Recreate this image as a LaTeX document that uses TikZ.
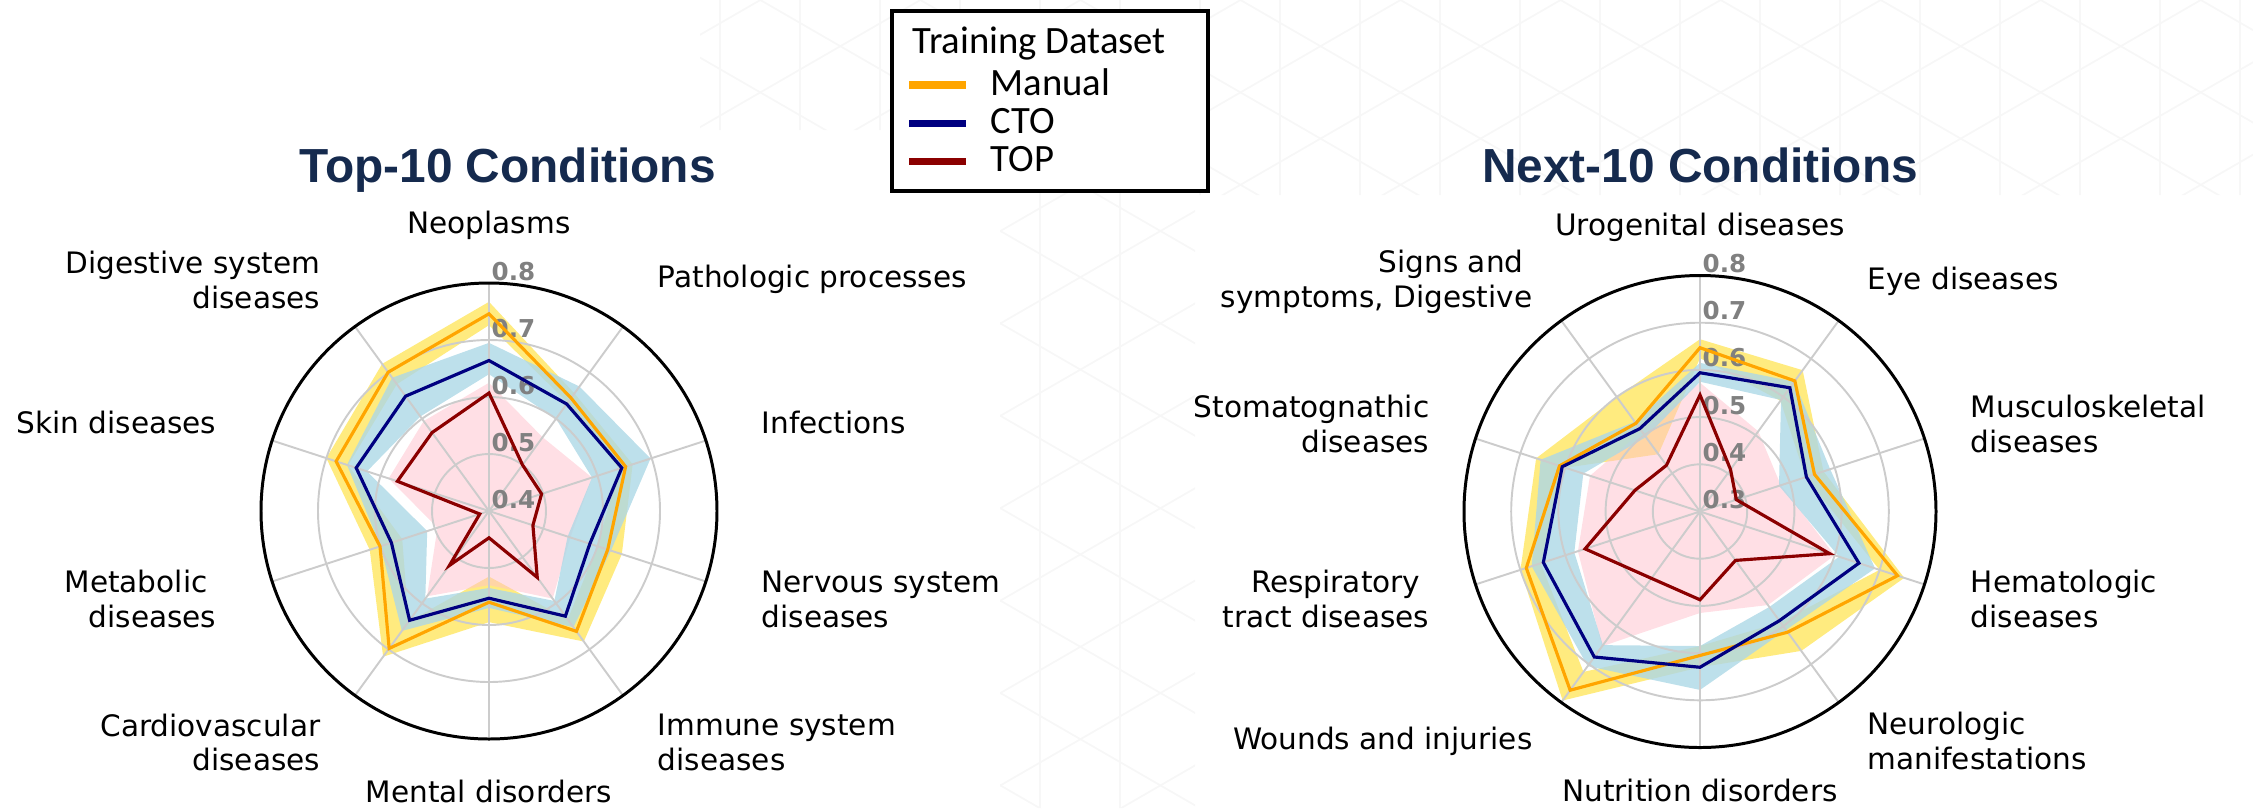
\documentclass[tikz,border=0pt]{standalone}
\usepackage{fontspec}
\setmainfont{DejaVu Sans}
\newfontfamily\headfont{Liberation Sans}
\newfontfamily\keyfont{Carlito}
\usepackage{tikz}
\definecolor{manline}{HTML}{FFA500}
\definecolor{ctoline}{HTML}{000080}
\definecolor{topline}{HTML}{8B0000}
\definecolor{manfill}{HTML}{FFD700}
\definecolor{ctofill}{HTML}{ADD8E6}
\definecolor{topfill}{HTML}{FFC0CB}
\definecolor{headblue}{HTML}{152A4E}
\newcommand\radarpoly[1]{(#10) \foreach \k in {1,...,9}{-- (#1\k)} -- cycle}

\begin{document}
\begin{tikzpicture}[x=0.01cm, y=-0.01cm,
    backdrop/.style={draw=gray!6, line width=0.5pt},
    grid/.style={draw=gray!40, line width=0.55pt},
    rim/.style={draw=black, line width=0.85pt},
    tick/.style={text=gray, font=\fontsize{7}{8}\selectfont\bfseries, inner sep=0pt, anchor=base west},
    cond/.style={font=\fontsize{8.4}{9.9}\selectfont, inner sep=0pt},
    head/.style={text=headblue, font=\fontsize{13.6}{16}\selectfont\headfont\bfseries, inner sep=0pt, anchor=base},
    key/.style={font=\fontsize{11}{12}\selectfont\keyfont, inner sep=0pt, anchor=base west},
    keyline/.style={line width=2pt},
    series/.style={line width=0.9pt},
    manband/.style={fill=manfill, fill opacity=.5, even odd rule},
    ctoband/.style={fill=ctofill, fill opacity=.8, even odd rule},
    topband/.style={fill=topfill, fill opacity=.5},
]
\useasboundingbox (0,0) rectangle (2253,808);

\begin{scope}
  \clip (1000,0) rectangle (1195,808) (1195,0) rectangle (2253,195) (700,0) rectangle (1000,130);
  \foreach \x in {0,80,...,2320} \draw[backdrop] (\x,0) -- (\x,808);
  \foreach \y in {-1663.2,-1570.8,...,924} \draw[backdrop] (-200,\y) -- ++(2600,1501);
  \foreach \y in {-92.4,0,...,2500} \draw[backdrop] (-200,\y) -- ++(2600,-1501);
\end{scope}

\node[head] (titleL) at (507.5,182) {Top-10 Conditions};
\node[head] (titleR) at (1700,182) {Next-10 Conditions};

\node[draw, fill=white, line width=1.1pt, minimum width=3.16cm, minimum height=1.8cm, inner sep=0pt, anchor=north west] (keybox) at (890,9) {};
\node[key] (keyhead) at (912,53.3) {Training Dataset};
\node[key] (keyman) at (990,95) {Manual};
\node[key] (keycto) at (990,133.3) {CTO};
\node[key] (keytop) at (990,171.7) {TOP};
\draw[keyline, manline] (909,85) -- (966,85);
\draw[keyline, ctoline] (909,123.3) -- (966,123.3);
\draw[keyline, topline] (909,161.7) -- (966,161.7);

\begin{scope}[shift={(489,511)}, y=0.01cm]
  \foreach \s/\vals in {
      man/{0.746,0.645,0.652,0.619,0.661,0.560,0.698,0.601,0.682,0.701},
      manhi/{0.767,0.655,0.665,0.645,0.683,0.595,0.716,0.620,0.700,0.719},
      manlo/{0.726,0.635,0.640,0.600,0.635,0.515,0.640,0.560,0.660,0.675},
      cto/{0.664,0.632,0.645,0.586,0.628,0.553,0.637,0.580,0.645,0.649},
      ctohi/{0.695,0.670,0.698,0.625,0.652,0.570,0.660,0.600,0.662,0.689},
      ctolo/{0.640,0.600,0.590,0.545,0.595,0.535,0.590,0.514,0.625,0.605},
      top/{0.607,0.500,0.497,0.481,0.544,0.447,0.518,0.417,0.569,0.570},
      tophi/{0.625,0.560,0.590,0.550,0.590,0.530,0.585,0.495,0.585,0.595}}
    \foreach \v [count=\i from 0] in \vals
      \coordinate (L\s\i) at ({90-36*\i}:{(\v-0.4)*570});

  \fill[manband] \radarpoly{Lmanhi} \radarpoly{Lmanlo};
  \fill[topband] \radarpoly{Ltophi};
  \fill[ctoband] \radarpoly{Lctohi} \radarpoly{Lctolo};

  \foreach \a in {0,...,9} \draw[grid] (0,0) -- ({90-36*\a}:228);
  \foreach \r in {57,114,171} \draw[grid] (0,0) circle[radius=\r];
  \foreach \t/\r in {0.8/228,0.7/171,0.6/114,0.5/57,0.4/0} \node[tick] at (2,\r+3) {\t};

  \draw[series, manline] \radarpoly{Lman};
  \draw[series, ctoline] \radarpoly{Lcto};
  \draw[series, topline] \radarpoly{Ltop};
  \draw[rim] (0,0) circle[radius=228];

  \node[cond] (neo) at (90:286) {Neoplasms};
  \node[cond, anchor=west] (path) at (54:286) {Pathologic processes};
  \node[cond, anchor=west] (inf) at (18:286) {Infections};
  \node[cond, anchor=west, align=left] (nerv) at (-18:286) {Nervous system\\diseases};
  \node[cond, anchor=west, align=left] (imm) at (-54:286) {Immune system\\diseases};
  \node[cond] (ment) at (-90:280) {Mental disorders};
  \node[cond, anchor=east, align=right] (card) at (-126:286) {Cardiovascular\\diseases};
  \node[cond, anchor=east, align=right] (meta) at (-162:286) {Metabolic\hspace*{0.3em}\\diseases};
  \node[cond, anchor=east] (skin) at (162:286) {Skin diseases};
  \node[cond, anchor=east, align=right] (dig) at (126:286) {Digestive system\\diseases};
\end{scope}

\begin{scope}[shift={(1700,511.5)}, y=0.01cm]
  \foreach \s/\vals in {
      man/{0.647,0.642,0.555,0.740,0.616,0.605,0.768,0.687,0.613,0.531},
      manhi/{0.665,0.670,0.575,0.755,0.665,0.630,0.795,0.700,0.665,0.600},
      manlo/{0.625,0.590,0.535,0.700,0.590,0.585,0.720,0.655,0.600,0.450},
      cto/{0.594,0.624,0.537,0.654,0.586,0.630,0.681,0.649,0.607,0.517},
      ctohi/{0.615,0.640,0.590,0.690,0.610,0.678,0.705,0.675,0.655,0.535},
      ctolo/{0.575,0.592,0.476,0.610,0.550,0.585,0.650,0.580,0.560,0.495},
      top/{0.547,0.410,0.381,0.589,0.428,0.487,0.475,0.556,0.445,0.421},
      tophi/{0.573,0.510,0.480,0.600,0.545,0.515,0.653,0.572,0.545,0.510}}
    \foreach \v [count=\i from 0] in \vals
      \coordinate (R\s\i) at ({90-36*\i}:{(\v-0.3)*472});

  \fill[manband] \radarpoly{Rmanhi} \radarpoly{Rmanlo};
  \fill[topband] \radarpoly{Rtophi};
  \fill[ctoband] \radarpoly{Rctohi} \radarpoly{Rctolo};

  \foreach \a in {0,...,9} \draw[grid] (0,0) -- ({90-36*\a}:236);
  \foreach \r in {47.2,94.4,141.6,188.8} \draw[grid] (0,0) circle[radius=\r];
  \foreach \t/\r in {0.8/236,0.7/188.8,0.6/141.6,0.5/94.4,0.4/47.2,0.3/0} \node[tick] at (2,\r+3) {\t};

  \draw[series, manline] \radarpoly{Rman};
  \draw[series, ctoline] \radarpoly{Rcto};
  \draw[series, topline] \radarpoly{Rtop};
  \draw[rim] (0,0) circle[radius=236];

  \node[cond] (uro) at (90:284) {Urogenital diseases};
  \node[cond, anchor=west] (eye) at (54:284) {Eye diseases};
  \node[cond, anchor=west, align=left] (musc) at (18:284) {Musculoskeletal\\diseases};
  \node[cond, anchor=west, align=left] (hema) at (-18:284) {Hematologic\\diseases};
  \node[cond, anchor=west, align=left] (neuro) at (-54:284) {Neurologic\\manifestations};
  \node[cond] (nutr) at (-90:279) {Nutrition disorders};
  \node[cond, anchor=east] (wound) at (-126:284) {Wounds and injuries};
  \node[cond, anchor=east, align=right] (resp) at (-162:284) {Respiratory\hspace*{0.3em}\\tract diseases};
  \node[cond, anchor=east, align=right] (stom) at (162:284) {Stomatognathic\\diseases};
  \node[cond, anchor=east, align=right] (signs) at (126:284) {Signs and\hspace*{0.3em}\\symptoms, Digestive};
\end{scope}
\end{tikzpicture}
\end{document}
